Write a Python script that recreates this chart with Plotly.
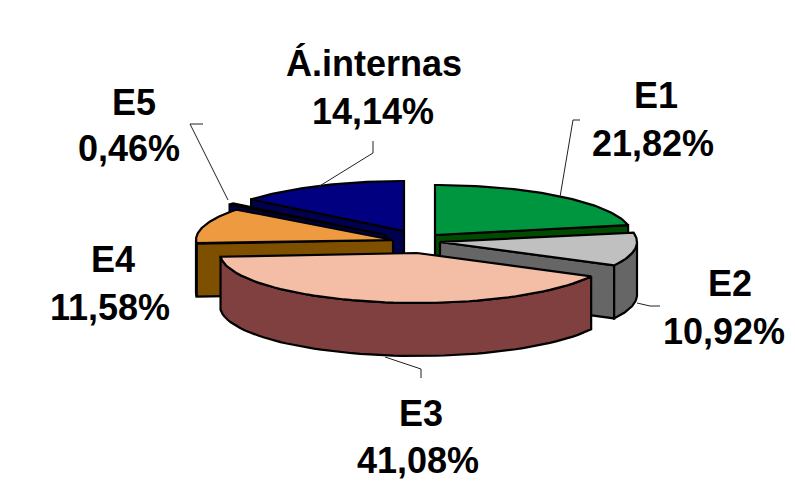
import math
import plotly.graph_objects as go

# data
categories = ["E1", "E2", "E3", "E4", "E5", "Á.internas"]
shares = [21.82, 10.92, 41.08, 11.58, 0.46, 14.14]

# geometry (pixel space of the axes)
RX, RY, DEPTH = 197, 50, 53
apex_x = [435, 440, 417, 393, 386, 404]
apex_y = [235, 242, 253, 240, 235, 231]
draw_order = [5, 4, 0, 3, 1, 2]
top_colors = ["#009640", "#c0c0c0", "#f4bda6", "#ee9a40", "#0000a8", "#000080"]
side_colors = ["#004b00", "#666666", "#804040", "#7f4f00", "#000060", "#000050"]

fig = go.Figure()


def poly(xs, ys, fill, width=2.2):
    fig.add_trace(go.Scatter(
        x=xs + xs[:1], y=ys + ys[:1], mode="lines", fill="toself",
        fillcolor=fill, line=dict(color="#000000", width=width),
        hoverinfo="skip", showlegend=False))


def rim(ax, ay, t):
    a = math.radians(t)
    return ax + RX * math.sin(a), ay - RY * math.cos(a)


starts = []
acc = 0.0
for s in shares:
    starts.append(acc)
    acc += s * 3.6

for i in draw_order:
    t0, t1 = starts[i], starts[i] + shares[i] * 3.6
    ax, ay = apex_x[i], apex_y[i]
    # cut faces turned towards the viewer
    for t, visible in ((t0, math.sin(math.radians(t0)) < 0),
                       (t1, math.sin(math.radians(t1)) > 0)):
        if visible:
            rx, ry = rim(ax, ay, t)
            poly([ax, rx, rx, ax], [ay, ry, ry + DEPTH, ay + DEPTH], side_colors[i])
    # outer wall, front half only
    lo, hi = max(t0, 90), min(t1, 270)
    if hi > lo:
        n = 60
        ts = [lo + (hi - lo) * k / n for k in range(n + 1)]
        pts = [rim(ax, ay, t) for t in ts]
        poly([p[0] for p in pts] + [p[0] for p in reversed(pts)],
             [p[1] for p in pts] + [p[1] + DEPTH for p in reversed(pts)],
             side_colors[i])
    # top surface
    n = 60
    ts = [t0 + (t1 - t0) * k / n for k in range(n + 1)]
    pts = [rim(ax, ay, t) for t in ts]
    poly([ax] + [p[0] for p in pts], [ay] + [p[1] for p in pts], top_colors[i])

# leader lines
leaders = [
    ([580, 573, 560], [120, 120, 197]),
    ([660, 650, 637], [306, 306, 303]),
    ([421, 421, 385], [378, 369, 357]),
    ([203, 190, 228], [124, 124, 200]),
    ([373, 373, 318], [141, 153, 187]),
]
for lx, ly in leaders:
    fig.add_trace(go.Scatter(x=lx, y=ly, mode="lines",
                             line=dict(color="#222222", width=1),
                             hoverinfo="skip", showlegend=False))

# labels
name_pos = [(656, 95), (730, 283), (421, 413), (113, 259), (134, 102), (374, 63)]
value_pos = [(653, 143), (724, 331), (418, 460), (110, 307), (129, 148), (373, 111)]
annotations = []
for name, share, np_, vp in zip(categories, shares, name_pos, value_pos):
    for text, (x, y) in ((name, np_), (f"{share:.2f}".replace(".", ",") + "%", vp)):
        annotations.append(dict(
            x=x, y=y, xref="x", yref="y", text="<b>" + text + "</b>", showarrow=False,
            xanchor="center", yanchor="middle",
            font=dict(family="Liberation Sans", size=36, color="#000000"),
        ))

# the page keeps an 8 px body margin, so the figure starts at (8, 8) of the window
fig.update_layout(
    width=787, height=474, margin=dict(l=0, r=0, t=0, b=0),
    paper_bgcolor="white", plot_bgcolor="white", showlegend=False,
    annotations=annotations,
    xaxis=dict(range=[8, 795], visible=False, fixedrange=True),
    yaxis=dict(range=[482, 8], visible=False, fixedrange=True),
)
fig.write_html("out.html", config=dict(displayModeBar=False),
               default_width="787px", default_height="474px")
